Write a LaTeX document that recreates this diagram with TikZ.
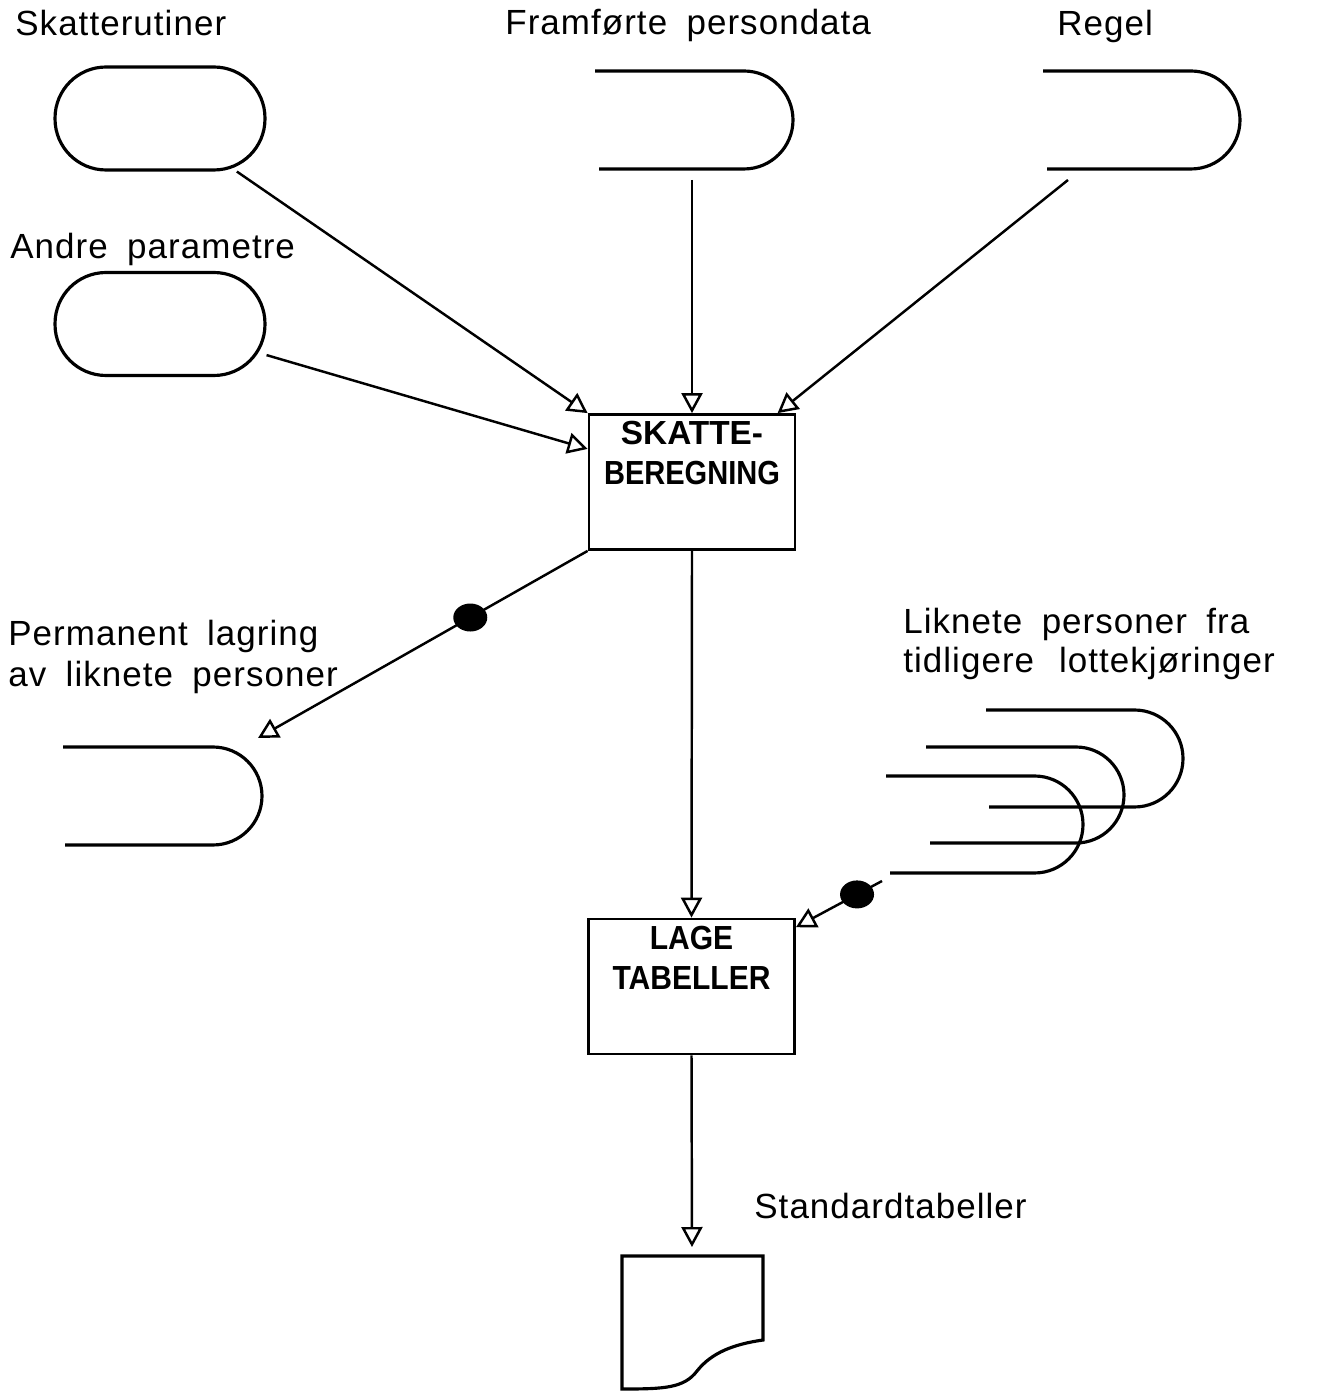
\documentclass[tikz,border=0pt]{standalone}
\usepackage{fontspec}
\usepackage{graphicx}
\setmainfont{Liberation Sans}
\newfontfamily\lblfont[LetterSpace=3,WordSpace=1.8]{Liberation Sans}
\newfontfamily\boxfont{Liberation Sans}
\usetikzlibrary{arrows.meta,shapes.geometric,calc}

\tikzset{
  lbl/.style={anchor=base west, inner sep=0pt, font=\lblfont\fontsize{19.9}{24}\selectfont},
  terminal/.style={draw, line width=1.8pt, rounded corners=1.02cm,
    minimum width=4.2cm, minimum height=2.06cm, inner sep=0pt},
  procbox/.style={draw, line width=1.6pt, minimum width=4.12cm, minimum height=2.7cm, inner sep=0pt},
  boxtext/.style={anchor=north, yshift=-0.16cm, align=center, inner sep=0pt,
    font=\boxfont\bfseries\fontsize{19}{22.8}\selectfont},
  storeline/.style={line width=1.8pt},
  flow/.style={line width=1.4pt, -{Triangle[open, length=0.4cm, width=0.42cm]}},
  dotmark/.style={ellipse, fill=black, minimum width=0.68cm, minimum height=0.56cm, inner sep=0pt},
}

\begin{document}
\begin{tikzpicture}[x=0.02cm, y=-0.02cm]
  \fill[white] (0,0) rectangle (1321,1391);

  % input sources
  \node[lbl] (lskr) at (15,36) {Skatterutiner};
  \node[terminal] (skr) at (160,118.5) {};
  \node[lbl] (landre) at (10,259) {Andre parametre};
  \node[terminal] (andre) at (160,324) {};

  \node[lbl] (lfp) at (505,35) {Framførte persondata};
  \draw[storeline] (595,71) -- (744,71) arc[start angle=90, end angle=-90, radius=0.98cm] -- (599,169);
  \coordinate (fp_out) at (692,180);

  \node[lbl] (lrg) at (1057,36) {Regel};
  \draw[storeline] (1043,71) -- (1191,71) arc[start angle=90, end angle=-90, radius=0.98cm] -- (1047,169);
  \coordinate (rg_out) at (1068,180);

  % processes
  \node[procbox, label={[boxtext]north:{SKATTE-\\\scalebox{0.87}[1]{BEREGNING}}}] (sb) at (692,482) {};
  \node[procbox, label={[boxtext]north:{\scalebox{0.9}[1]{LAGE}\\\scalebox{0.9}[1]{TABELLER}}}] (lt) at (691.5,986.5) {};

  % permanent storage
  \node[lbl] (lperm1) at (8,645) {Permanent lagring};
  \node[lbl] (lperm2) at (8,686) {av liknete personer};
  \draw[storeline] (63,747) -- (213,747) arc[start angle=90, end angle=-90, radius=0.98cm] -- (65,845);
  \coordinate (pl_in) at (258,738);

  % earlier runs (stacked stores)
  \node[lbl] (lhist1) at (903,633) {Liknete personer fra};
  \node[lbl] (lhist2) at (903,672) {tidligere\hspace{0.5cm}lottekjøringer};
  \draw[storeline] (986,710) -- (1134.5,710) arc[start angle=90, end angle=-90, radius=0.97cm] -- (989,807);
  \draw[storeline] (926,747) -- (1076,747) arc[start angle=90, end angle=-90, radius=0.96cm] -- (930,843);
  \draw[storeline] (886,776) -- (1034.5,776) arc[start angle=90, end angle=-90, radius=0.97cm] -- (890,873);
  \coordinate (hist_out) at (882,881);

  % output document
  \node[lbl] (lstd) at (754,1218) {Standardtabeller};
  \draw[storeline] (622,1256) -- (763,1256) -- (763,1340)
    .. controls (735,1344) and (712,1352) .. (697,1371)
    .. controls (684,1388) and (665,1389) .. (622,1389) -- cycle;
  \coordinate (std) at (692,1256);

  % flows
  \draw[flow] (skr) -- (sb.north west);
  \draw[flow] (andre) -- ($(sb.north west)!0.26!(sb.south west)$);
  \draw[flow] (fp_out) -- (sb.north);
  \draw[flow] (rg_out) -- ($(sb.north west)!0.91!(sb.north east)$);
  \draw[flow] (sb.south) -- (lt.north);
  \draw[flow] (sb.south west) -- node[dotmark, pos=0.356] (dot1) {} (pl_in);
  \draw[flow] (hist_out) -- node[dotmark, pos=0.29] (dot2) {} ($(lt.north east)!0.07!(lt.south east)$);
  \draw[flow, shorten >=0.18cm] (lt.south) -- (std);
\end{tikzpicture}
\end{document}
